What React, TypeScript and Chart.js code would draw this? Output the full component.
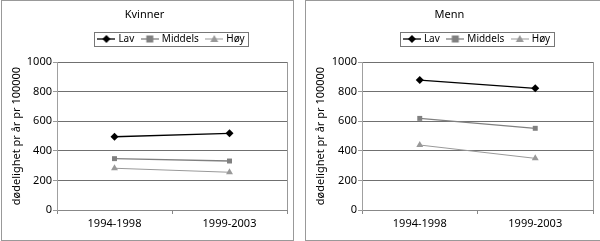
import React, { useEffect, useRef } from 'react';
import { Chart, registerables } from 'chart.js';

Chart.register(...registerables);
Chart.defaults.font.family = "'Noto Sans', sans-serif";
Chart.defaults.color = '#000';

const categories = ['1994-1998', '1999-2003'];
const seriesNames = ['Lav', 'Middels', 'Høy'];

const kvinnerLav = [495, 518];
const kvinnerMiddels = [347, 331];
const kvinnerHoy = [282, 255];

const mennLav = [878, 822];
const mennMiddels = [619, 552];
const mennHoy = [439, 349];

const yMin = 0;
const yMax = 1000;
const yStep = 200;
const yTitle = 'dødelighet pr år pr 100000';

type SeriesStyle = { color: string; point: string; radius: number; lineWidth: number };
const seriesStyles: SeriesStyle[] = [
  { color: '#000000', point: 'rectRot', radius: 4, lineWidth: 1.3 },
  { color: '#808080', point: 'rect', radius: 3.5, lineWidth: 1.3 },
  { color: '#999999', point: 'triangle', radius: 4, lineWidth: 1 },
];

function makeIcon(s: SeriesStyle): HTMLCanvasElement {
  const c = document.createElement('canvas');
  c.width = 18;
  c.height = 10;
  const g = c.getContext('2d')!;
  g.strokeStyle = s.color;
  g.fillStyle = s.color;
  g.lineWidth = s.lineWidth;
  g.beginPath();
  g.moveTo(0, 5);
  g.lineTo(18, 5);
  g.stroke();
  const cx = 9, cy = 5;
  g.beginPath();
  if (s.point === 'rectRot') {
    g.moveTo(cx, cy - 4);
    g.lineTo(cx + 4, cy);
    g.lineTo(cx, cy + 4);
    g.lineTo(cx - 4, cy);
  } else if (s.point === 'rect') {
    g.rect(cx - 3.5, cy - 3.5, 7, 7);
  } else {
    g.moveTo(cx, cy - 4);
    g.lineTo(cx + 4, cy + 3);
    g.lineTo(cx - 4, cy + 3);
  }
  g.closePath();
  g.fill();
  return c;
}

const legendBoxPlugin = {
  id: 'legendBox',
  beforeLayout(chart: any) {
    const lg = chart.legend;
    if (lg && !lg._extraPatched) {
      const fit = lg.fit;
      lg.fit = function () {
        fit.call(this);
        this.height += 8;
      };
      lg._extraPatched = true;
    }
  },
  afterDraw(chart: any) {
    const lg = chart.legend;
    const hb = lg && lg.legendHitBoxes;
    if (!hb || !hb.length) return;
    const left = Math.min(...hb.map((h: any) => h.left)) - 5;
    const right = Math.max(...hb.map((h: any) => h.left + h.width)) + 4;
    const top = hb[0].top - 2;
    const bottom = hb[0].top + 12;
    const ctx = chart.ctx;
    ctx.save();
    ctx.strokeStyle = '#777';
    ctx.lineWidth = 1;
    ctx.strokeRect(Math.round(left) + 0.5, Math.round(top) + 0.5, Math.round(right - left), Math.round(bottom - top));
    ctx.restore();
  },
};

type PanelProps = {
  title: string;
  values: number[][];
  left: number;
  width: number;
  yWidth: number;
  padRight: number;
};

function Panel({ title, values, left, width, yWidth, padRight }: PanelProps) {
  const ref = useRef<HTMLCanvasElement>(null);
  useEffect(() => {
    const icons = seriesStyles.map(makeIcon);
    const chart = new Chart(ref.current!, {
      type: 'line',
      data: {
        labels: categories,
        datasets: seriesNames.map((name, i) => ({
          label: name,
          data: values[i],
          borderColor: seriesStyles[i].color,
          backgroundColor: seriesStyles[i].color,
          borderWidth: seriesStyles[i].lineWidth,
          pointStyle: seriesStyles[i].point as any,
          pointRadius: seriesStyles[i].radius,
          pointBorderWidth: 0,
          pointBackgroundColor: seriesStyles[i].color,
          tension: 0,
        })),
      },
      options: {
        responsive: false,
        animation: false,
        layout: { padding: { left: 0, right: padRight, top: 0, bottom: 0 } },
        plugins: {
          title: {
            display: true,
            text: title,
            font: { size: 11, weight: 'normal' },
            color: '#000',
            padding: { top: 7, bottom: 4.3 },
          },
          legend: {
            display: true,
            position: 'top',
            fullSize: false,
            labels: {
              font: { size: 10 },
              color: '#000',
              usePointStyle: true,
              pointStyleWidth: 14,
              padding: 8.5,
              generateLabels: (ch: any) => {
                const items = Chart.defaults.plugins.legend.labels.generateLabels(ch);
                return items.map((it: any, i: number) => ({ ...it, pointStyle: icons[i] }));
              },
            },
          },
          tooltip: { enabled: false },
        },
        scales: {
          x: {
            offset: true,
            grid: {
              offset: true,
              drawOnChartArea: true,
              drawTicks: true,
              tickLength: 4,
              tickColor: '#888',
              color: (ctx: any) => (ctx.type === 'tick' ? 'rgba(0,0,0,0)' : '#999'),
            },
            border: { color: '#888' },
            ticks: { font: { size: 11 }, color: '#000', padding: 3, maxRotation: 0 },
            afterFit: (scale: any) => {
              scale.height = 30;
            },
          },
          y: {
            min: yMin,
            max: yMax,
            ticks: {
              stepSize: yStep,
              font: { size: 11 },
              color: '#000',
              padding: 1,
              callback: (v: any) => String(v),
            },
            grid: { color: '#707070', tickLength: 4, tickColor: '#999' },
            border: { color: '#a0a0a0' },
            title: {
              display: true,
              text: yTitle,
              font: { size: 11 },
              color: '#000',
              padding: { top: 8, bottom: 0 },
            },
            afterFit: (scale: any) => {
              scale.width = yWidth;
            },
          },
        },
      },
      plugins: [legendBoxPlugin],
    } as any);
    return () => chart.destroy();
  }, []);
  return (
    <div
      style={{
        position: 'absolute',
        left,
        top: 0,
        width,
        height: 239,
        border: '1px solid #999',
        background: '#fff',
      }}
    >
      <canvas ref={ref} width={width} height={239} style={{ display: 'block' }} />
    </div>
  );
}

export default function App() {
  return (
    <div style={{ position: 'fixed', left: 0, top: 0, width: 600, height: 241, background: '#fff', overflow: 'hidden' }}>
      <Panel title="Kvinner" values={[kvinnerLav, kvinnerMiddels, kvinnerHoy]} left={1} width={291} yWidth={55} padRight={6} />
      <Panel title="Menn" values={[mennLav, mennMiddels, mennHoy]} left={305} width={294} yWidth={56} padRight={7} />
    </div>
  );
}
